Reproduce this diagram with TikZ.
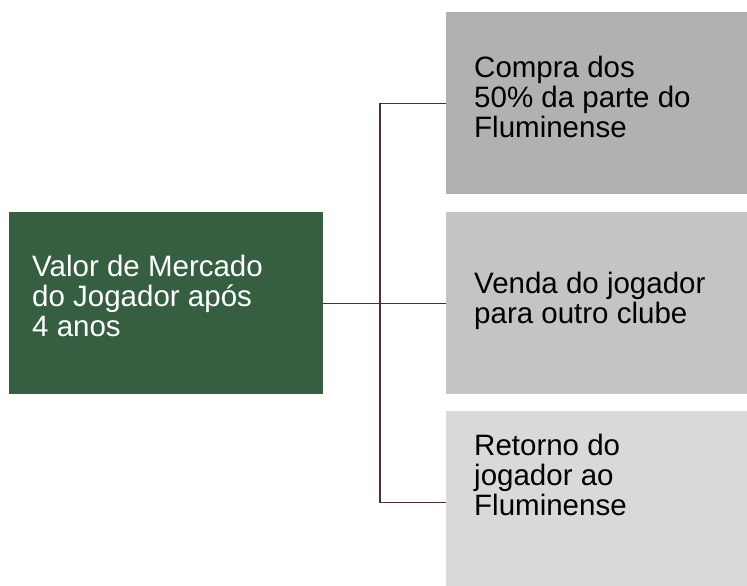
\documentclass[tikz,border=0pt]{standalone}
\usepackage{fontspec}
\setmainfont{Liberation Sans}
\usetikzlibrary{positioning}
\definecolor{mercado-green}{HTML}{365F42}
\definecolor{gray-dark}{HTML}{B1B1B1}
\definecolor{gray-mid}{HTML}{C4C4C4}
\definecolor{gray-light}{HTML}{D9D9D9}
\definecolor{line-brown}{HTML}{4A3035}

\begin{document}
\begin{tikzpicture}[
    x=1pt, y=-1pt,
    box/.style={
        anchor=north west, inner sep=0pt,
        minimum width=301pt, minimum height=182pt,
    },
    box text/.style={
        anchor=north west, inner sep=0pt, align=left,
        font=\fontsize{29.5}{30}\selectfont,
    },
    connector/.style={ draw=line-brown, line width=1.2pt, },
]
\useasboundingbox (0,0) rectangle (747,586);
\clip (0,0) rectangle (747,586);

\node[box, fill=mercado-green, minimum width=314pt] (valor) at (9,212) {};
\node[box, fill=gray-dark] (compra) at (446,12) {};
\node[box, fill=gray-mid] (venda) at (446,212) {};
\node[box, fill=gray-light] (retorno) at (446,411) {};

\node[box text, text=white] (valor-text) at (32,255)
    {Valor de Mercado\\do Jogador após\\4 anos};
\node[box text] (compra-text) at (474,56)
    {Compra dos\\50\% da parte do\\Fluminense};
\node[box text] (venda-text) at (474,272)
    {Venda do jogador\\para outro clube};
\node[box text] (retorno-text) at (474,434)
    {Retorno do\\jogador ao\\Fluminense};

\coordinate (fork) at (380,303);
\draw[connector] (valor.east) -- (venda.west);
\draw[connector] (compra.west) -| (fork) |- (retorno.west);
\end{tikzpicture}
\end{document}
